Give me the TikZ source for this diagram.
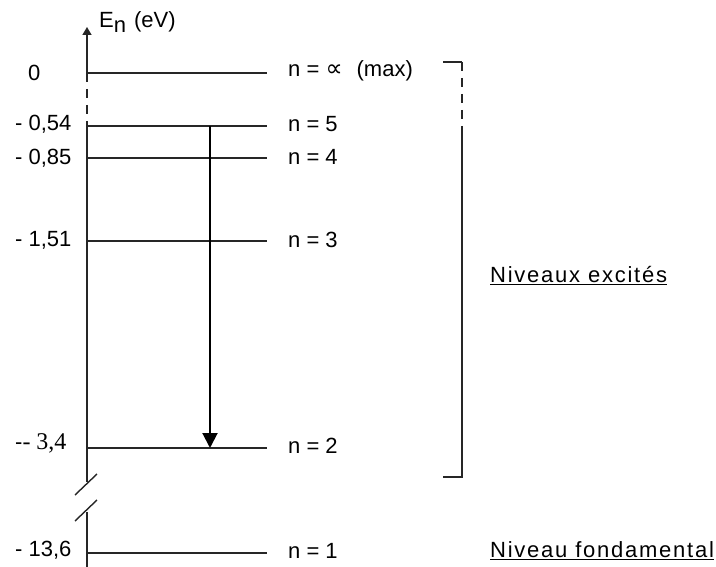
\documentclass[tikz,border=0pt]{standalone}
\usepackage{fontspec}
\setmainfont{Liberation Sans}
\newfontfamily\serifft{Liberation Serif}
\newfontfamily\symft{DejaVu Sans}
\usetikzlibrary{arrows.meta}
\begin{document}
\begin{tikzpicture}[x=1pt,y=-1pt,
  lvl/.style={line width=1.4pt, draw=black!85},
  axisline/.style={line width=1.4pt, draw=black!85},
  dashline/.style={line width=1.4pt, draw=black!85, dash pattern=on 9pt off 7pt},
  lab/.style={font=\fontsize{22}{25}\selectfont, inner sep=0pt, anchor=west},
  wide/.style={font=\fontsize{22}{25}\selectfont\addfontfeatures{LetterSpace=8}},
  trans/.style={line width=2pt, -{Triangle[length=15pt,width=15pt]}}]
\useasboundingbox (0,0) rectangle (716,567);
% level coordinates
\foreach \nm/\yy in {Z/73, L5/126, L4/158, L3/241, L2/448, L1/553}{
  \coordinate (\nm a) at (87,\yy);
  \coordinate (\nm b) at (267,\yy);
}
\coordinate (top) at (87,27);
\coordinate (brk1) at (87,482);
\coordinate (brk2) at (87,512);
\coordinate (bot) at (87,567);
% axis
\draw[axisline, -{Triangle[length=8pt,width=9pt]}] (Za) -- (top);
\draw[dashline] (Za) -- (L5a);
\draw[axisline] (L5a) -- (brk1);
\draw[axisline] (brk2) -- (bot);
\draw[axisline] (75,495) -- (97,474);
\draw[axisline] (75,521) -- (97,500);
% levels
\foreach \nm in {Z, L5, L4, L3, L2, L1}{
  \draw[lvl] (\nm a) -- (\nm b);
}
% axis label
\node[lab] (En) at (99,22) {E\raisebox{-5pt}{n}\hspace{8pt}(eV)};
% left values
\node[lab] (v0) at (28,73) {0};
\node[lab] (v5) at (15,124) {- 0,54};
\node[lab] (v4) at (15,158) {- 0,85};
\node[lab] (v3) at (15,240) {- 1,51};
\node[lab] (v2) at (15,443) {-{\serifft\fontsize{24}{26}\selectfont - 3,4}};
\node[lab] (v1) at (15,550) {- 13,6};
% right labels
\node[lab] (nZ) at (288,71) {n = {\symft\fontsize{24}{26}\selectfont ∝}\hspace{14pt}(max)};
\node[lab] (n5) at (288,124) {n = 5};
\node[lab] (n4) at (288,157) {n = 4};
\node[lab] (n3) at (288,240) {n = 3};
\node[lab] (n2) at (288,446) {n = 2};
\node[lab] (n1) at (288,551) {n = 1};
% bracket
\coordinate (b1) at (443,62);
\coordinate (b2) at (462,62);
\coordinate (b3) at (462,128);
\coordinate (b4) at (462,477);
\coordinate (b5) at (443,477);
\draw[lvl] (b1) -- (b2);
\draw[dashline] (b2) -- (b3);
\draw[lvl] (b3) -- (b4) -- (b5);
% group labels
\node[lab, wide] (exc) at (490,276) {\underline{Niveaux excités}};
\node[lab, wide] (fond) at (490,551) {\underline{Niveau fondamental}};
% transition
\coordinate (t5) at (210,126);
\coordinate (t2) at (210,448);
\draw[trans] (t5) -- (t2);
\end{tikzpicture}
\end{document}
